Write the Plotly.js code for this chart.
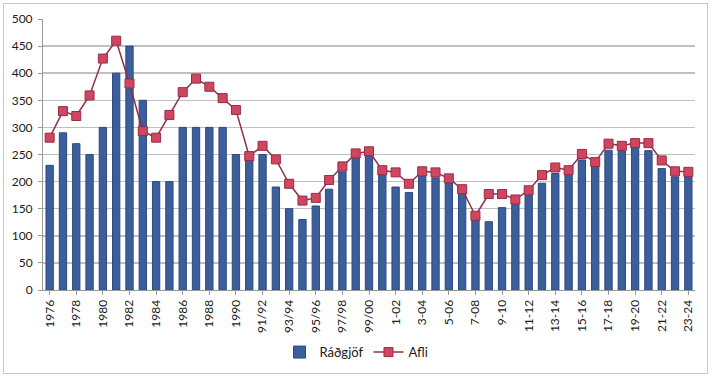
<!DOCTYPE html>
<html>
<head>
<meta charset="utf-8">
<script src="https://cdn.plot.ly/plotly-3.0.1.min.js"></script>
<style>
html,body{margin:0;padding:0;background:#fff;}
#wrap{position:absolute;left:3px;top:3px;width:705px;height:371px;border:1px solid #c8c8c8;box-sizing:border-box;}
#chart{position:absolute;left:0;top:0;width:713px;height:377px;}
</style>
</head>
<body>
<div id="wrap"></div>
<div id="chart"></div>
<script>
const categories = [
  "1976","1977","1978","1979","1980","1981","1982","1983","1984","1985","1986","1987","1988","1989","1990",
  "90/91","91/92","92/93","93/94","94/95","95/96","96/97","97/98","98/99","99/00",
  "0-01","1-02","2-03","3-04","4-05","5-06","6-07","7-08","8-09","9-10","10-11","11-12","12-13","13-14",
  "14-15","15-16","16-17","17-18","18-19","19-20","20-21","21-22","22-23","23-24"
];
const radgjof = [
  230,290,270,250,300,400,450,350,200,200,300,300,300,300,250,
  245,250,190,150,130,155,186,218,250,248,
  216,190,180,210,207,198,180,130,126,152,160,175,197,215,
  215,240,228,258,257,264,257,224,209,209
];
const afli = [
  281,330,321,359,427,460,381,293,281,323,365,390,375,354,332,
  247,266,241,196,165,170,203,228,252,256,
  221,217,196,219,217,206,186,137,177,177,167,184,212,226,
  221,251,236,270,266,271,271,239,219,218
];
const tickLabels = categories.filter((c,i)=>i%2===0);

const traces = [
  {
    type:"bar", name:"Ráðgjöf", x:categories, y:radgjof,
    marker:{color:"#3c5f9c", line:{color:"#2a4a80", width:1}},
  },
  {
    type:"scatter", mode:"lines+markers", name:"Afli", x:categories, y:afli,
    line:{color:"#8e2f50", width:1.5},
    marker:{symbol:"square", size:9, color:"#d0465f", line:{color:"#9a2a45", width:1}}
  }
];
const layout = {
  width:713, height:377,
  margin:{l:43, r:18, t:19, b:87},
  paper_bgcolor:"rgba(0,0,0,0)", plot_bgcolor:"rgba(0,0,0,0)",
  font:{family:"Lato, 'Open Sans', sans-serif", size:12, color:"#1a1a1a"},
  bargap:0.45,
  showlegend:true,
  legend:{orientation:"h", x:0.5, xanchor:"center", xref:"container", y:0.066, yanchor:"middle", yref:"container", font:{size:13}},
  xaxis:{
    type:"category", tickmode:"array", tickvals:tickLabels, ticktext:tickLabels,
    tickangle:-90, ticks:"outside", ticklen:4, tickcolor:"#999", automargin:false,
    showline:true, linecolor:"#999", linewidth:1, showgrid:false,
    range:[-0.5, categories.length-0.5]
  },
  yaxis:{
    range:[0,500], dtick:50, showgrid:true, gridcolor:"#c0c0c0", gridwidth:1.5, automargin:false,
    showline:true, linecolor:"#999", ticks:"outside", ticklen:4, tickcolor:"#999",
    ticklabelstandoff:3, zeroline:false
  }
};
Plotly.newPlot("chart", traces, layout, {displayModeBar:false, staticPlot:true});
</script>
</body>
</html>
